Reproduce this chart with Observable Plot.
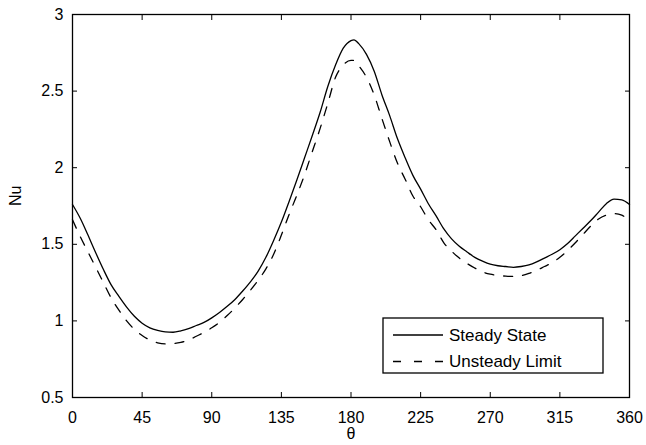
<!DOCTYPE html>
<html>
<head>
<meta charset="utf-8">
<script src="https://cdn.jsdelivr.net/npm/d3@7"></script>
<script src="https://cdn.jsdelivr.net/npm/@observablehq/plot@0.6"></script>
<style>
  html, body { margin: 0; padding: 0; background: #fff; }
  #chart { position: relative; width: 646px; height: 445px; }
  svg { display: block; }
</style>
</head>
<body>
<div id="chart"></div>
<script>
const theta = [0,5,10,15,20,25,30,35,40,45,50,55,60,65,70,75,80,85,90,95,100,105,110,115,120,125,130,135,140,145,150,155,160,165,170,175,180,182,185,190,195,200,205,210,215,220,225,230,235,240,245,250,255,260,265,270,275,280,285,290,295,300,305,310,315,320,325,330,335,340,345,350,355,360];
const steady = [1.76,1.67,1.56,1.445,1.335,1.235,1.16,1.09,1.03,0.985,0.955,0.938,0.928,0.926,0.935,0.95,0.97,0.99,1.02,1.055,1.095,1.14,1.195,1.255,1.325,1.415,1.525,1.645,1.78,1.92,2.065,2.21,2.36,2.53,2.67,2.78,2.83,2.835,2.81,2.74,2.63,2.475,2.34,2.19,2.065,1.95,1.86,1.765,1.685,1.60,1.535,1.487,1.45,1.415,1.39,1.37,1.36,1.355,1.35,1.355,1.365,1.385,1.41,1.435,1.465,1.505,1.555,1.605,1.655,1.71,1.765,1.795,1.79,1.76];
const unsteady = [1.66,1.55,1.45,1.35,1.25,1.15,1.07,1.0,0.945,0.905,0.875,0.857,0.85,0.852,0.86,0.875,0.9,0.925,0.955,0.99,1.035,1.085,1.14,1.2,1.265,1.34,1.435,1.56,1.695,1.82,1.955,2.105,2.255,2.42,2.59,2.67,2.70,2.70,2.665,2.59,2.475,2.32,2.17,2.03,1.925,1.815,1.745,1.66,1.595,1.51,1.455,1.41,1.375,1.345,1.32,1.305,1.297,1.292,1.29,1.295,1.31,1.33,1.355,1.38,1.415,1.46,1.51,1.565,1.62,1.665,1.69,1.70,1.69,1.655];
const seriesNames = ["Steady State", "Unsteady Limit"];
const xTicks = [0,45,90,135,180,225,270,315,360];
const yTicks = [0.5,1,1.5,2,2.5,3];
const xLabel = "θ";
const yLabel = "Nu";

const rowsS = theta.map((t, i) => ({theta: t, nu: steady[i]}));
const rowsU = theta.map((t, i) => ({theta: t, nu: unsteady[i]}));

const font = "'Liberation Sans', Arial, Helvetica, sans-serif";
const blank = () => "";

const plot = Plot.plot({
  width: 646,
  height: 445,
  marginLeft: 72,
  marginRight: 17,
  marginTop: 14,
  marginBottom: 48,
  style: {fontFamily: font, fontSize: "16px", color: "#000", background: "#fff"},
  x: {domain: [0, 360]},
  y: {domain: [0.5, 3]},
  marks: [
    Plot.line(rowsS, {x: "theta", y: "nu", stroke: "#000", strokeWidth: 1.3, curve: "monotone-x"}),
    Plot.line(rowsU, {x: "theta", y: "nu", stroke: "#000", strokeWidth: 1.3, strokeDasharray: "9,10", curve: "monotone-x"}),
    // tick labels
    Plot.axisX(xTicks, {anchor: "bottom", tickSize: 0, tickPadding: 14, label: null, fontSize: 16}),
    Plot.axisY(yTicks, {anchor: "left", tickSize: 0, tickPadding: 9, label: null, fontSize: 16, tickFormat: d => String(d)}),
    // inward ticks on all four sides
    Plot.axisX(xTicks, {anchor: "bottom", tickSize: -5, tickFormat: blank, label: null}),
    Plot.axisX(xTicks, {anchor: "top", tickSize: -5, tickFormat: blank, label: null}),
    Plot.axisY(yTicks, {anchor: "left", tickSize: -5, tickFormat: blank, label: null}),
    Plot.axisY(yTicks, {anchor: "right", tickSize: -5, tickFormat: blank, label: null}),
    Plot.frame({stroke: "#000", strokeWidth: 1.3}),
    Plot.text([xLabel], {frameAnchor: "bottom", dy: 41, fontSize: 16, fill: "#000"}),
    Plot.text([yLabel], {frameAnchor: "left", dx: -57, rotate: -90, fontSize: 16, fill: "#000"})
  ]
});

document.getElementById("chart").appendChild(plot);

// Legend box (MATLAB style) inside the plot area
const svg = d3.select(plot);
const lg = svg.append("g").attr("font-family", font).attr("font-size", 17).attr("text-anchor", "start");
lg.append("rect").attr("x", 383).attr("y", 318).attr("width", 220).attr("height", 55)
  .attr("fill", "#fff").attr("stroke", "#000").attr("stroke-width", 1.3);
const dashes = [null, "8,13"];
seriesNames.forEach((name, i) => {
  const yy = 335 + i * 26.5;
  lg.append("line").attr("x1", 393).attr("x2", 443).attr("y1", yy).attr("y2", yy)
    .attr("stroke", "#000").attr("stroke-width", 1.3)
    .attr("stroke-dasharray", dashes[i]);
  lg.append("text").attr("x", 449).attr("y", yy).attr("dy", "0.35em").attr("fill", "#000")
    .attr("text-anchor", "start").text(name);
});
</script>
</body>
</html>
